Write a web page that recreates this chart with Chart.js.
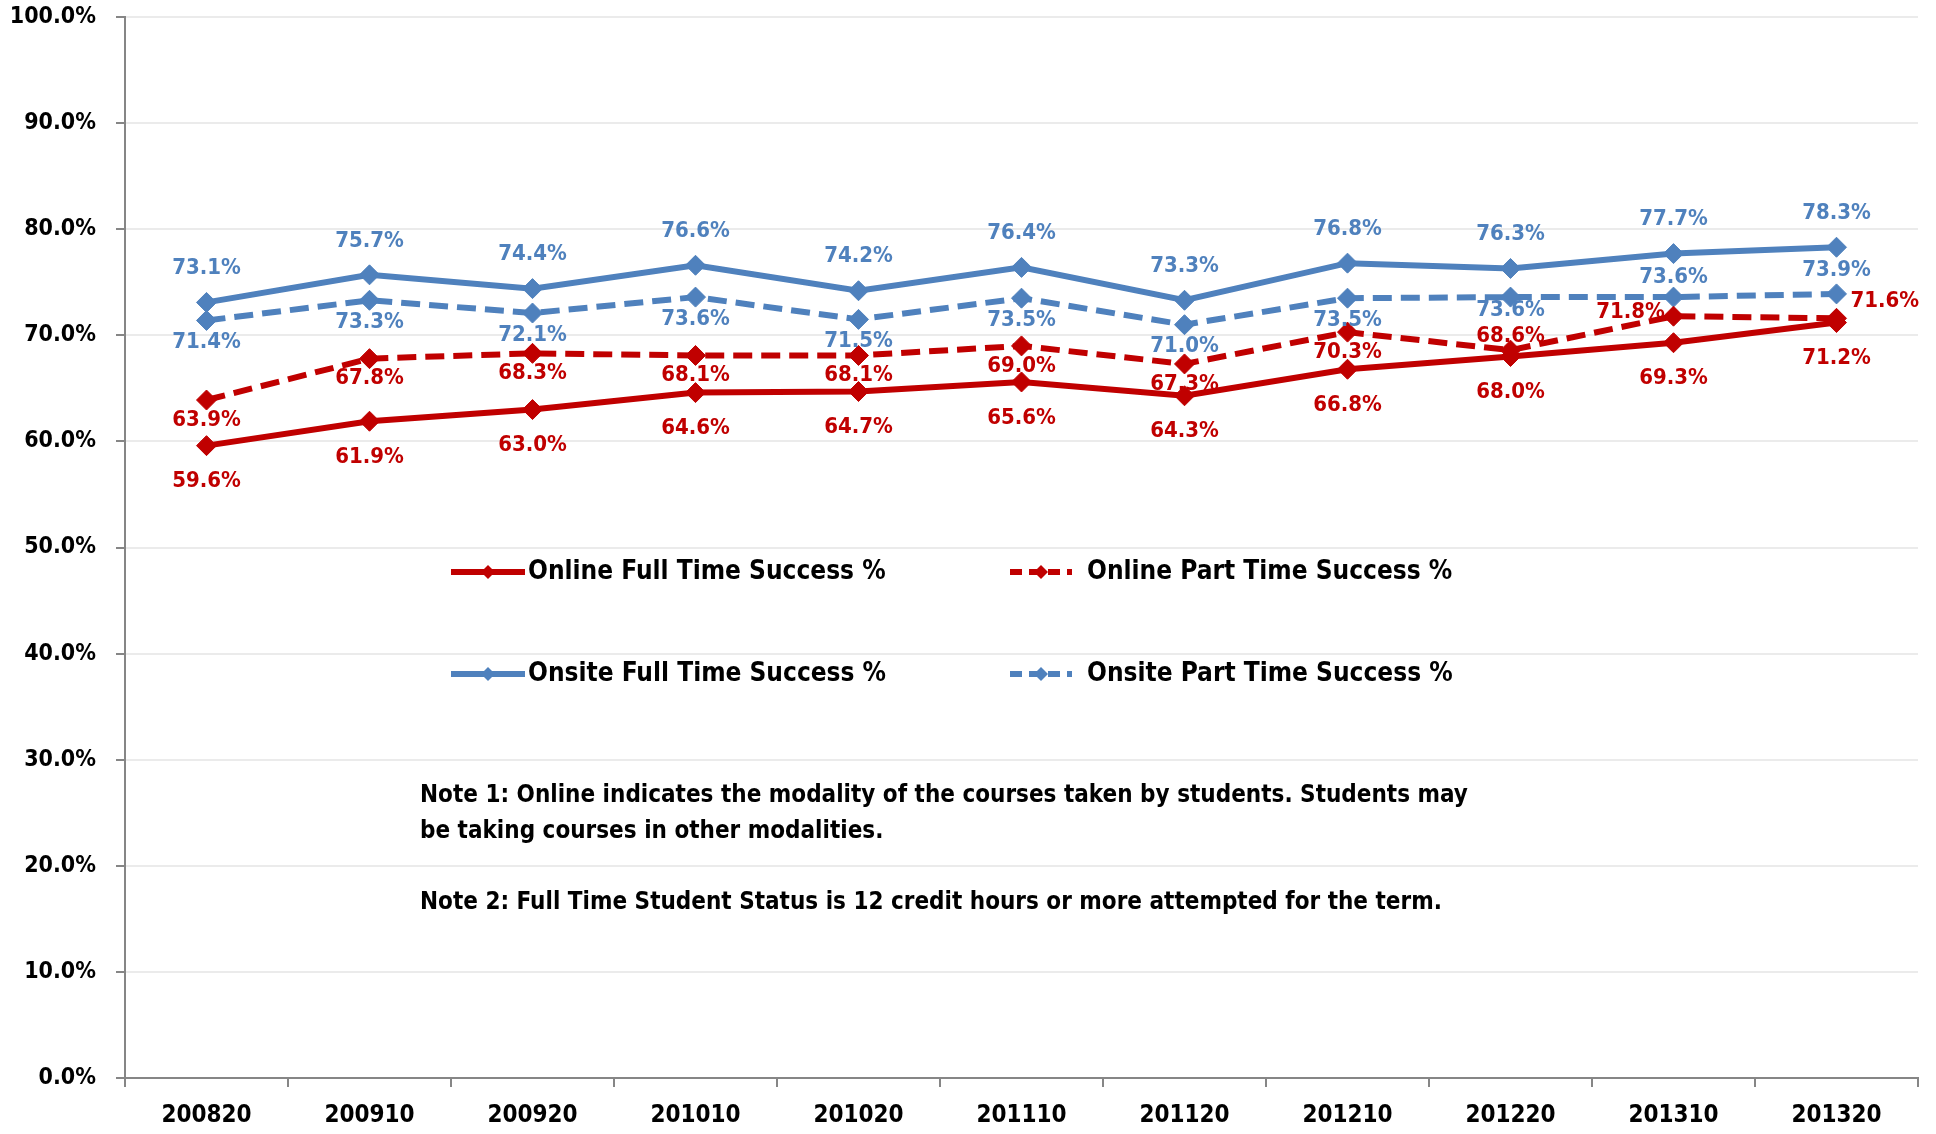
<!DOCTYPE html>
<html>
<head>
<meta charset="utf-8">
<script src="https://cdn.jsdelivr.net/npm/chart.js@4.4.1/dist/chart.umd.min.js"></script>
<style>
  html, body { margin: 0; padding: 0; background: #fff; }
  #wrap { position: relative; width: 1936px; height: 1134px; }
  canvas { display: block; }
  .note { position: absolute; left: 420px; font-family: 'DejaVu Sans Condensed', 'Liberation Sans Narrow', sans-serif; font-weight: bold; font-size: 24px; line-height: 36px; color: #000; white-space: nowrap; }
</style>
</head>
<body>
<div id="wrap">
  <canvas id="c" width="1936" height="1134"></canvas>
  <div class="note" id="note1" style="top:776px;"></div>
  <div class="note" id="note2" style="top:883px;"></div>
</div>
<script>
const categories = ['200820','200910','200920','201010','201020','201110','201120','201210','201220','201310','201320'];
const onlineFullTime = [59.6, 61.9, 63.0, 64.6, 64.7, 65.6, 64.3, 66.8, 68.0, 69.3, 71.2];
const onlinePartTime = [63.9, 67.8, 68.3, 68.1, 68.1, 69.0, 67.3, 70.3, 68.6, 71.8, 71.6];
const onsiteFullTime = [73.1, 75.7, 74.4, 76.6, 74.2, 76.4, 73.3, 76.8, 76.3, 77.7, 78.3];
const onsitePartTime = [71.4, 73.3, 72.1, 73.6, 71.5, 73.5, 71.0, 73.5, 73.6, 73.6, 73.9];
const seriesNames = ['Online Full Time Success %', 'Online Part Time Success %', 'Onsite Full Time Success %', 'Onsite Part Time Success %'];
const noteLines = ['Note 1: Online indicates the modality of the courses taken by students. Students may<br>be taking courses in other modalities.', 'Note 2: Full Time Student Status is 12 credit hours or more attempted for the term.'];

document.getElementById('note1').innerHTML = noteLines[0];
document.getElementById('note2').innerHTML = noteLines[1];

const FONT = "'DejaVu Sans Condensed', 'Liberation Sans Narrow', sans-serif";
const RED = '#C00000';
const BLUE = '#4F81BD';
const DASH = [19, 9];

// label placement (style): default offset per dataset, plus per-index overrides
const labelPlacement = [
  { dx: 0, dy: 36, over: {} },
  { dx: 0, dy: 20, over: { 8: { dx: 0, dy: -14 }, 9: { dx: -43, dy: -4 }, 10: { dx: 50, dy: -17, align: 'left' } } },
  { dx: 0, dy: -34, over: {} },
  { dx: 0, dy: 22, over: { 8: { dx: 0, dy: 13 }, 9: { dx: 0, dy: -20 }, 10: { dx: 0, dy: -24 } } }
];

const dataLabelPlugin = {
  id: 'dataLabels',
  afterDatasetsDraw(chart) {
    const ctx = chart.ctx;
    ctx.save();
    ctx.font = 'bold 22px ' + FONT;
    ctx.textBaseline = 'middle';
    chart.data.datasets.forEach((ds, di) => {
      const meta = chart.getDatasetMeta(di);
      const pl = labelPlacement[di];
      meta.data.forEach((pt, i) => {
        const o = pl.over[i] || pl;
        ctx.fillStyle = ds.borderColor;
        ctx.textAlign = o.align === 'left' ? 'left' : 'center';
        const x = o.align === 'left' ? pt.x + 14 : pt.x + o.dx;
        ctx.fillText(ds.data[i].toFixed(1) + '%', x, pt.y + o.dy);
      });
    });
    ctx.restore();
  }
};

const legendLayout = [
  { x: 451, y: 572 }, { x: 1010, y: 572 }, { x: 451, y: 674 }, { x: 1010, y: 674 }
];

const legendPlugin = {
  id: 'customLegend',
  afterDraw(chart) {
    const ctx = chart.ctx;
    ctx.save();
    chart.data.datasets.forEach((ds, di) => {
      const p = legendLayout[di];
      const dashed = ds.borderDash && ds.borderDash.length;
      const lw = dashed ? 62 : 74;
      ctx.strokeStyle = ds.borderColor;
      ctx.lineWidth = 6;
      ctx.setLineDash(dashed ? [12, 7] : []);
      ctx.beginPath();
      ctx.moveTo(p.x, p.y);
      ctx.lineTo(p.x + lw, p.y);
      ctx.stroke();
      ctx.setLineDash([]);
      const cx = p.x + lw / 2, r = 7;
      ctx.fillStyle = ds.borderColor;
      ctx.beginPath();
      ctx.moveTo(cx, p.y - r); ctx.lineTo(cx + r, p.y); ctx.lineTo(cx, p.y + r); ctx.lineTo(cx - r, p.y);
      ctx.closePath(); ctx.fill();
      ctx.fillStyle = '#000';
      ctx.font = 'bold 26px ' + FONT;
      ctx.textAlign = 'left';
      ctx.textBaseline = 'middle';
      ctx.fillText(ds.label, p.x + 77, p.y);
    });
    ctx.restore();
  }
};

function mkDataset(label, data, color, dashed) {
  return {
    label, data,
    borderColor: color,
    backgroundColor: color,
    borderWidth: 6,
    borderDash: dashed ? DASH : [],
    pointStyle: 'rectRot',
    pointRadius: 10,
    pointHoverRadius: 10,
    pointBackgroundColor: color,
    pointBorderColor: color,
    pointBorderWidth: 1,
    tension: 0,
    fill: false
  };
}

Chart.defaults.font.family = FONT;
Chart.defaults.font.weight = 'bold';
Chart.defaults.color = '#000';

new Chart(document.getElementById('c'), {
  type: 'line',
  data: {
    labels: categories,
    datasets: [
      mkDataset(seriesNames[0], onlineFullTime, RED, false),
      mkDataset(seriesNames[1], onlinePartTime, RED, true),
      mkDataset(seriesNames[2], onsiteFullTime, BLUE, false),
      mkDataset(seriesNames[3], onsitePartTime, BLUE, true)
    ]
  },
  options: {
    responsive: false,
    animation: false,
    layout: { padding: { left: 0, right: 18, top: 0, bottom: 0 } },
    plugins: { legend: { display: false }, tooltip: { enabled: false } },
    scales: {
      x: {
        type: 'category',
        offset: true,
        grid: { display: true, drawOnChartArea: false, drawTicks: true, tickLength: 9, offset: true, color: '#868686', lineWidth: 2 },
        border: { display: true, color: '#868686', width: 2 },
        ticks: { font: { size: 24, weight: 'bold' }, color: '#000', padding: 14, maxRotation: 0, autoSkip: false },
        afterFit(scale) { scale.height = 56; scale.paddingLeft = 0; scale.paddingRight = 0; }
      },
      y: {
        min: 0, max: 100,
        ticks: { stepSize: 10, font: { size: 23, weight: 'bold' }, color: '#000', padding: 20, callback: v => v.toFixed(1) + '%' },
        grid: { color: '#EBEBEB', lineWidth: 2, tickLength: 9, tickColor: '#868686', drawTicks: true },
        border: { display: true, color: '#868686', width: 2 },
        afterFit(scale) { scale.width = 125; scale.paddingTop = 17; scale.paddingBottom = 0; }
      }
    }
  },
  plugins: [dataLabelPlugin, legendPlugin]
});
</script>
</body>
</html>
